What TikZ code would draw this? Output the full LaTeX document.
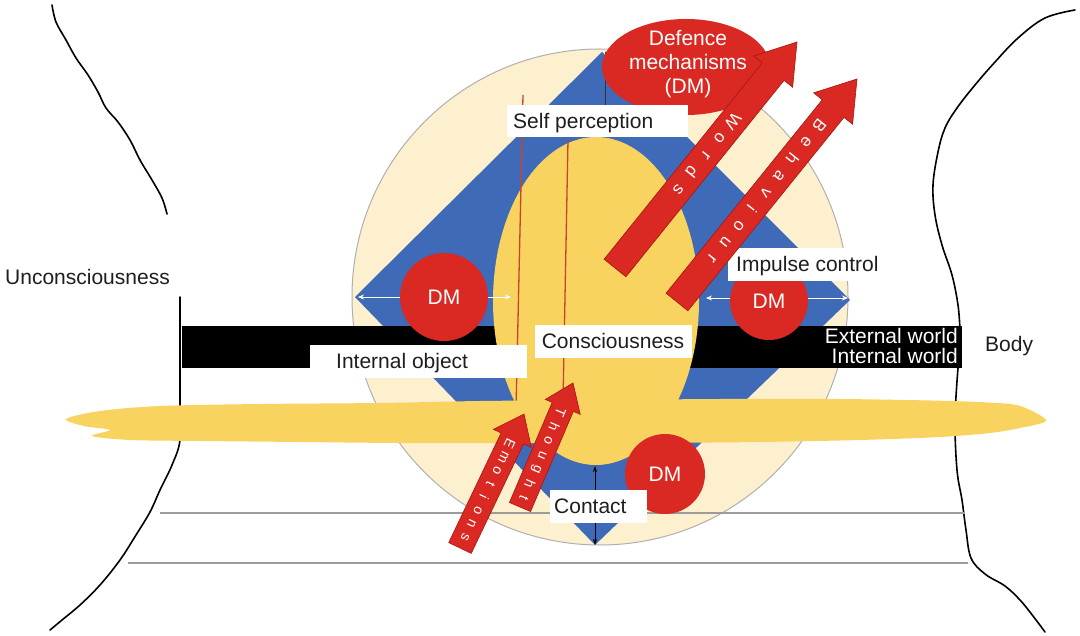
\documentclass[tikz,border=0pt]{standalone}
\usepackage{fontspec}
\setmainfont{Liberation Sans}
\usetikzlibrary{calc,arrows.meta}

\definecolor{cream}{HTML}{FCF0CF}
\definecolor{dblue}{HTML}{3E6AB8}
\definecolor{sun}{HTML}{F9D360}
\definecolor{dmred}{HTML}{DA2822}
\definecolor{dmedge}{HTML}{A5170F}
\definecolor{ink}{HTML}{1E1E1E}
\definecolor{rule}{HTML}{9C9C9C}
\definecolor{thread}{HTML}{C8442A}

% block arrow: #1 tail, #2 tip, #3 half shaft width, #4 half head width, #5 head length
\newcommand\redarrow[5]{%
  \coordinate (hb) at ($(#2)!#5!(#1)$);
  \draw[arrowbody] ($(#1)!#3!90:(#2)$) -- ($(hb)!#3!90:(#2)$) -- ($(hb)!#4!90:(#2)$)
    -- (#2) -- ($(hb)!#4!-90:(#2)$) -- ($(hb)!#3!-90:(#2)$) -- ($(#1)!#3!-90:(#2)$) -- cycle;
}
% spaced letters along an arrow: #1 name prefix, #2 tip, #3 tail, #4 first offset,
% #5 pitch, #6 rotation, #7 font size, #8 letters
\newcommand\arrowletters[8]{%
  \foreach \ch [count=\i] in {#8} {
    \pgfmathsetmacro\ltrpos{#4+(\i-1)*#5}
    \node[arrowletter, font=\fontsize{#7}{#7}\selectfont, rotate=#6] (#1-\i)
      at ($(#2)!\ltrpos pt!(#3)$) {\ch};
  }%
}

\tikzset{
  labelbox/.style={fill=white, inner sep=0pt, anchor=north west},
  labeltext/.style={text=ink, inner sep=0pt, anchor=base west, font=\fontsize{21}{24}\selectfont},
  dmdisc/.style={circle, fill=dmred, text=white, inner sep=0pt, font=\fontsize{21}{24}\selectfont},
  arrowbody/.style={fill=dmred, draw=dmedge, line width=0.6pt, line join=miter},
  arrowletter/.style={text=white, inner sep=0pt},
  wiggle/.style={black, line width=1.6pt, line cap=round, line join=round},
  rulestyle/.style={draw=rule, line width=1.3pt},
  whitearrow/.style={white, line width=0.9pt, {Stealth[length=6pt,width=5pt]}-{Stealth[length=6pt,width=5pt]}},
  contactarrow/.style={black, line width=0.9pt, {Stealth[length=6pt,width=4pt]}-{Stealth[length=6pt,width=4pt]}},
}

\begin{document}
\begin{tikzpicture}[x=1pt,y=-1pt]
\useasboundingbox (0,0) rectangle (1080,636);
\fill[white] (0,0) rectangle (1080,636);

% body outline, left and right
\draw[wiggle] plot[smooth, tension=0.6] coordinates {(52,5) (56,22) (66,40) (76,58) (88,75) (98,92)
  (106,108) (118,122) (130,140) (140,160) (152,180) (162,198) (167,214)};
\draw[wiggle] plot[smooth, tension=0.6] coordinates {(180,297) (180,340) (180,400) (180,440) (172,465)
  (160,490) (150,512) (136,535) (120,560) (100,585) (80,605) (62,620) (50,630)};
\draw[wiggle] plot[smooth, tension=0.6] coordinates {(1075,10) (1045,18) (1018,38) (995,62) (975,85)
  (957,108) (945,128) (938,152) (933,185) (935,215) (942,245) (952,275) (958,305) (960,330)};
\draw[wiggle] plot[smooth, tension=0.6] coordinates {(958,368) (955,420) (957,470) (962,500) (966,530)
  (971,558) (985,574) (1005,586) (1020,600) (1033,616) (1045,632)};

% mind circle and defence diamond
\filldraw[fill=cream, draw=rule!80, line width=1pt] (600,297) circle [radius=248pt];
\fill[dblue] (355,297) -- (602,52) -- (850,300) -- (595,545) -- cycle;
\draw[black!80, line width=0.8pt] (605,52) -- (605,106);

% boundary between external and internal world
\fill[black] (182,326) rectangle (962,368);

% consciousness
\fill[sun] (596,301) ellipse [x radius=103pt, y radius=164pt];
\draw[thread, line width=1.3pt] (523,95) -- (516,410);
\draw[thread, line width=1.3pt] (568,140) -- (563,402);

% band across the body
\fill[sun] plot[smooth cycle, tension=0.5] coordinates {(66,419) (100,411) (160,406) (260,404)
  (380,403) (480,401) (600,400) (720,399) (840,399) (950,401) (1010,404) (1030,410) (1046,421)
  (1020,428) (990,433) (940,437) (860,440) (760,442) (640,443) (520,443) (400,443) (300,442)
  (200,441) (130,440) (92,436) (110,430) (84,426)};

% horizontal rules
\coordinate (ruleA1) at (160,513); \coordinate (ruleA2) at (965,513);
\coordinate (ruleB1) at (128,563); \coordinate (ruleB2) at (968,563);
\draw[rulestyle] (ruleA1) -- (ruleA2);
\draw[rulestyle] (ruleB1) -- (ruleB2);

% double arrows
\coordinate (wlA) at (358,297); \coordinate (wlB) at (511,297);
\coordinate (wrA) at (706,298); \coordinate (wrB) at (848,298);
\coordinate (ctA) at (595,466); \coordinate (ctB) at (595,545);
\draw[whitearrow] (wlA) -- (wlB);
\draw[whitearrow] (wrA) -- (wrB);
\draw[contactarrow] (ctA) -- (ctB);

% defence mechanisms
\node[dmdisc, minimum size=88pt] (dmL) at (444,297) {DM};
\node[dmdisc, minimum size=78pt] (dmR) at (769,301) {DM};
\node[dmdisc, minimum size=80pt] (dmB) at (665,474) {DM};
\fill[dmred] (686,67) ellipse [x radius=84pt, y radius=48pt];
\node[text=white, inner sep=0pt, align=center, font=\fontsize{21}{24}\selectfont] (dmtop) at (688,64)
  {Defence\\mechanisms\\(DM)};

% labels
\node[labelbox, minimum width=181pt, minimum height=32pt] (selfbox) at (507,105) {};
\node[labeltext] (selftxt) at (513,128.5) {Self perception};
\node[labelbox, minimum width=217pt, minimum height=33pt] (intbox) at (310,345) {};
\node[labeltext] (inttxt) at (336,369) {Internal object};
\node[labelbox, minimum width=157pt, minimum height=33pt] (conbox) at (535,325) {};
\node[labeltext, anchor=base] (contxt) at (613,349) {Consciousness};
\node[labelbox, minimum width=154pt, minimum height=33pt] (impbox) at (728,248) {};
\node[labeltext] (imptxt) at (736,272) {Impulse control};
\node[labelbox, minimum width=97pt, minimum height=33pt] (ctbox) at (550,490) {};
\node[labeltext] (cttxt) at (554,514) {Contact};

\node[labeltext] (uncon) at (5,285) {Unconsciousness};
\node[labeltext] (body) at (985,352) {Body};
\node[labeltext, anchor=base east, text=white] (extw) at (958,344) {External world};
\node[labeltext, anchor=base east, text=white] (intw) at (958,364) {Internal world};

% expression arrows
\coordinate (wordsTail) at (615,268); \coordinate (wordsTip) at (797,42);
\coordinate (behTail) at (677,302);   \coordinate (behTip) at (857,79);
\coordinate (emoTail) at (460,548);   \coordinate (emoTip) at (524,414);
\coordinate (thoTail) at (520,507);   \coordinate (thoTip) at (573,383);

\redarrow{wordsTail}{wordsTip}{14pt}{25pt}{38pt}
\redarrow{behTail}{behTip}{14pt}{25pt}{38pt}
\redarrow{emoTail}{emoTip}{12.5pt}{21pt}{27pt}
\redarrow{thoTail}{thoTip}{11.5pt}{19pt}{26pt}

\arrowletters{wd}{wordsTip}{wordsTail}{102}{21.8}{-128.5}{17}{W,o,r,d,s}
\arrowletters{bh}{behTip}{behTail}{60}{21.4}{-128.5}{17}{B,e,h,a,v,i,o,u,r}
\arrowletters{em}{emoTip}{emoTail}{33}{14.8}{-115.5}{14}{E,m,o,t,i,o,n,s}
\arrowletters{th}{thoTip}{thoTail}{32}{15.5}{-113.1}{14}{T,h,o,u,g,h,t}
\end{tikzpicture}
\end{document}
